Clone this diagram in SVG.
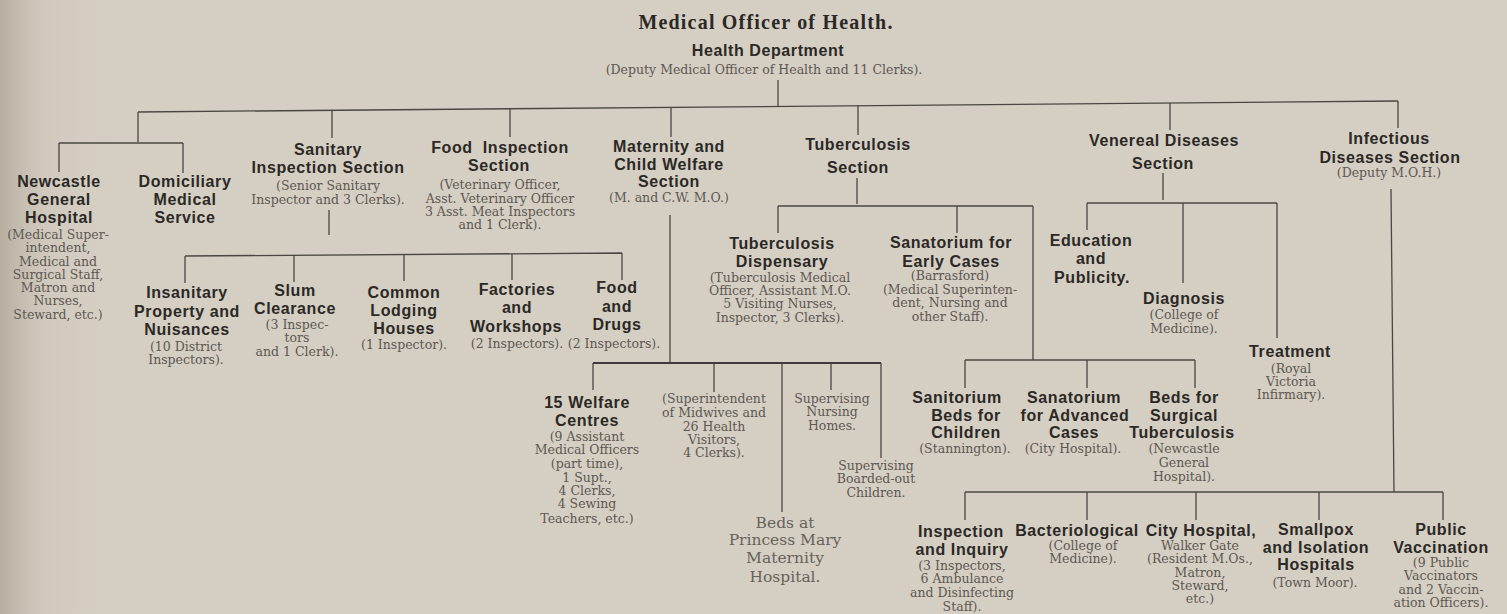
<svg xmlns="http://www.w3.org/2000/svg" width="1507" height="614" viewBox="0 0 1507 614">
<defs>
<linearGradient id="edge" x1="0" y1="0" x2="1" y2="0">
<stop offset="0" stop-color="#b3aa9c" stop-opacity="0.9"/>
<stop offset="0.03" stop-color="#c8c0b3" stop-opacity="0.4"/>
<stop offset="0.08" stop-color="#d6cfc3" stop-opacity="0"/>
</linearGradient>
</defs>
<style>
.h{font-family:"Liberation Sans",Arial,sans-serif;font-weight:bold;font-size:16px;letter-spacing:0.6px;fill:#2b2926;text-anchor:middle}
.s{font-family:"DejaVu Serif","Liberation Serif",serif;font-size:12.5px;fill:#5c5852;text-anchor:middle}
.t{font-family:"Liberation Serif","DejaVu Serif",serif;font-weight:bold;font-size:20px;letter-spacing:1.2px;fill:#2b2926;text-anchor:middle}
.b{font-family:"DejaVu Serif","Liberation Serif",serif;font-size:15.5px;fill:#66625b;text-anchor:middle}
.ln{fill:none;stroke:#4a4743;stroke-width:1.3}
.lk{fill:none;stroke:#3e3b38;stroke-width:2.2}
</style>
<rect width="1507" height="614" fill="#d5cec2"/>
<rect width="1507" height="614" fill="url(#edge)"/>

<g id="connectors">
<path class="ln" d="M778,80 V106"/>
<path class="ln" d="M138,112 L1398,101"/>
<path class="ln" d="M138,112 V142 M332,110 V138 M510,108 V137 M671,107 V137 M858,105 V135 M1170,103 V130 M1398,101 V128"/>
<path class="ln" d="M59,143 H183 M59,143 V172 M183,143 V173"/>
<path class="ln" d="M329,210 V235"/>
<path class="ln" d="M185,256 L622,253 M185,256 V283 M294,255 V282 M404,255 V281 M512,254 V280 M622,253 V280"/>
<path class="ln" d="M670,215 V362"/>
<path class="lk" d="M593,363 H881"/>
<path class="ln" d="M593,363 V390 M714,363 V392 M782,363 V512 M831,363 V390 M881,363 V458"/>
<path class="ln" d="M857,178 V204 M778,206 H1033 M778,206 V233 M957,206 V233 M1033,206 V360"/>
<path class="ln" d="M965,360 H1195 M965,360 V388 M1087,360 V388 M1195,360 V388"/>
<path class="ln" d="M1163,173 V200 M1087,203 H1277 M1087,203 V230 M1183,203 V283 M1277,203 V338"/>
<path class="ln" d="M1391,189 L1394,492 M965,492 H1443 M965,492 V520 M1087,492 V520 M1196,492 V520 M1319,492 V520 M1443,492 V520"/>
</g>

<g id="n-moh">
<text class="t" x="766" y="29">Medical Officer of Health.</text>
<text class="h" x="768" y="56">Health Department</text>
<text class="s" x="764" y="74">(Deputy Medical Officer of Health and 11 Clerks).</text>
</g>

<g id="n-newcastle">
<text class="h" x="59" y="187">Newcastle</text>
<text class="h" x="59" y="205">General</text>
<text class="h" x="59" y="223">Hospital</text>
<text class="s" x="58" y="239">(Medical Super-</text>
<text class="s" x="58" y="252">intendent,</text>
<text class="s" x="58" y="266">Medical and</text>
<text class="s" x="58" y="279">Surgical Staff,</text>
<text class="s" x="58" y="292">Matron and</text>
<text class="s" x="58" y="305">Nurses,</text>
<text class="s" x="58" y="319">Steward, etc.)</text>
</g>

<g id="n-domiciliary">
<text class="h" x="185" y="187">Domiciliary</text>
<text class="h" x="185" y="205">Medical</text>
<text class="h" x="185" y="223">Service</text>
</g>

<g id="n-sanitary">
<text class="h" x="328" y="155">Sanitary</text>
<text class="h" x="328" y="173">Inspection Section</text>
<text class="s" x="328" y="190">(Senior Sanitary</text>
<text class="s" x="328" y="204">Inspector and 3 Clerks).</text>
</g>

<g id="n-food">
<text class="h" x="500" y="153" word-spacing="5">Food Inspection</text>
<text class="h" x="499" y="171">Section</text>
<text class="s" x="500" y="189">(Veterinary Officer,</text>
<text class="s" x="500" y="203">Asst. Veterinary Officer</text>
<text class="s" x="500" y="216">3 Asst. Meat Inspectors</text>
<text class="s" x="500" y="229">and 1 Clerk).</text>
</g>

<g id="n-maternity">
<text class="h" x="669" y="152">Maternity and</text>
<text class="h" x="669" y="170">Child Welfare</text>
<text class="h" x="669" y="187">Section</text>
<text class="s" x="669" y="202">(M. and C.W. M.O.)</text>
</g>

<g id="n-tb">
<text class="h" x="858" y="150">Tuberculosis</text>
<text class="h" x="858" y="173">Section</text>
</g>

<g id="n-vd">
<text class="h" x="1164" y="146">Venereal Diseases</text>
<text class="h" x="1163" y="169">Section</text>
</g>

<g id="n-infectious">
<text class="h" x="1389" y="144">Infectious</text>
<text class="h" x="1390" y="163">Diseases Section</text>
<text class="s" x="1389" y="177">(Deputy M.O.H.)</text>
</g>

<g id="n-insanitary">
<text class="h" x="187" y="298">Insanitary</text>
<text class="h" x="187" y="317">Property and</text>
<text class="h" x="187" y="335">Nuisances</text>
<text class="s" x="186" y="351">(10 District</text>
<text class="s" x="186" y="364">Inspectors).</text>
</g>

<g id="n-slum">
<text class="h" x="295" y="296">Slum</text>
<text class="h" x="295" y="314">Clearance</text>
<text class="s" x="297" y="329">(3 Inspec-</text>
<text class="s" x="297" y="342">tors</text>
<text class="s" x="297" y="356">and 1 Clerk).</text>
</g>

<g id="n-lodging">
<text class="h" x="404" y="298">Common</text>
<text class="h" x="404" y="316">Lodging</text>
<text class="h" x="404" y="334">Houses</text>
<text class="s" x="404" y="349">(1 Inspector).</text>
</g>

<g id="n-factories">
<text class="h" x="517" y="295">Factories</text>
<text class="h" x="517" y="313">and</text>
<text class="h" x="516" y="332">Workshops</text>
<text class="s" x="517" y="348">(2 Inspectors).</text>
</g>

<g id="n-fooddrugs">
<text class="h" x="617" y="293">Food</text>
<text class="h" x="617" y="312">and</text>
<text class="h" x="617" y="330">Drugs</text>
<text class="s" x="614" y="348">(2 Inspectors).</text>
</g>

<g id="n-tbdisp">
<text class="h" x="782" y="249">Tuberculosis</text>
<text class="h" x="782" y="267">Dispensary</text>
<text class="s" x="780" y="282">(Tuberculosis Medical</text>
<text class="s" x="780" y="295">Officer, Assistant M.O.</text>
<text class="s" x="780" y="308">5 Visiting Nurses,</text>
<text class="s" x="780" y="322">Inspector, 3 Clerks).</text>
</g>

<g id="n-early">
<text class="h" x="951" y="248">Sanatorium for</text>
<text class="h" x="951" y="267">Early Cases</text>
<text class="s" x="950" y="280">(Barrasford)</text>
<text class="s" x="950" y="294">(Medical Superinten-</text>
<text class="s" x="950" y="307">dent, Nursing and</text>
<text class="s" x="950" y="321">other Staff).</text>
</g>

<g id="n-education">
<text class="h" x="1091" y="246">Education</text>
<text class="h" x="1091" y="264">and</text>
<text class="h" x="1092" y="283">Publicity.</text>
</g>

<g id="n-diagnosis">
<text class="h" x="1184" y="304">Diagnosis</text>
<text class="s" x="1184" y="319">(College of</text>
<text class="s" x="1184" y="333">Medicine).</text>
</g>

<g id="n-treatment">
<text class="h" x="1290" y="357">Treatment</text>
<text class="s" x="1291" y="373">(Royal</text>
<text class="s" x="1291" y="386">Victoria</text>
<text class="s" x="1291" y="399">Infirmary).</text>
</g>

<g id="n-welfare">
<text class="h" x="587" y="408">15 Welfare</text>
<text class="h" x="587" y="426">Centres</text>
<text class="s" x="587" y="441">(9 Assistant</text>
<text class="s" x="587" y="454">Medical Officers</text>
<text class="s" x="587" y="468">(part time),</text>
<text class="s" x="587" y="482">1 Supt.,</text>
<text class="s" x="587" y="495">4 Clerks,</text>
<text class="s" x="587" y="508">4 Sewing</text>
<text class="s" x="587" y="523">Teachers, etc.)</text>
</g>

<g id="n-midwives">
<text class="s" x="714" y="403">(Superintendent</text>
<text class="s" x="714" y="417">of Midwives and</text>
<text class="s" x="714" y="431">26 Health</text>
<text class="s" x="714" y="444">Visitors,</text>
<text class="s" x="714" y="457">4 Clerks).</text>
</g>

<g id="n-nursing">
<text class="s" x="832" y="403">Supervising</text>
<text class="s" x="832" y="416">Nursing</text>
<text class="s" x="832" y="430">Homes.</text>
</g>

<g id="n-boarded">
<text class="s" x="876" y="470">Supervising</text>
<text class="s" x="876" y="483">Boarded-out</text>
<text class="s" x="876" y="497">Children.</text>
</g>

<g id="n-princess">
<text class="b" x="785" y="528">Beds at</text>
<text class="b" x="785" y="545">Princess Mary</text>
<text class="b" x="785" y="563">Maternity</text>
<text class="b" x="785" y="582">Hospital.</text>
</g>

<g id="n-children">
<text class="h" x="957" y="403">Sanitorium</text>
<text class="h" x="966" y="421">Beds for</text>
<text class="h" x="966" y="438">Children</text>
<text class="s" x="965" y="453">(Stannington).</text>
</g>

<g id="n-advanced">
<text class="h" x="1074" y="403">Sanatorium</text>
<text class="h" x="1075" y="421">for Advanced</text>
<text class="h" x="1074" y="438">Cases</text>
<text class="s" x="1073" y="453">(City Hospital).</text>
</g>

<g id="n-surgical">
<text class="h" x="1184" y="403">Beds for</text>
<text class="h" x="1184" y="421">Surgical</text>
<text class="h" x="1182" y="438">Tuberculosis</text>
<text class="s" x="1184" y="453">(Newcastle</text>
<text class="s" x="1184" y="467">General</text>
<text class="s" x="1184" y="481">Hospital).</text>
</g>

<g id="n-inspection">
<text class="h" x="961" y="537">Inspection</text>
<text class="h" x="962" y="555">and Inquiry</text>
<text class="s" x="962" y="570">(3 Inspectors,</text>
<text class="s" x="962" y="583">6 Ambulance</text>
<text class="s" x="962" y="597">and Disinfecting</text>
<text class="s" x="962" y="611">Staff).</text>
</g>

<g id="n-bacteriological">
<text class="h" x="1077" y="536">Bacteriological</text>
<text class="s" x="1083" y="550">(College of</text>
<text class="s" x="1083" y="563">Medicine).</text>
</g>

<g id="n-city">
<text class="h" x="1201" y="536">City Hospital,</text>
<text class="s" x="1200" y="550">Walker Gate</text>
<text class="s" x="1200" y="563">(Resident M.Os.,</text>
<text class="s" x="1200" y="577">Matron,</text>
<text class="s" x="1200" y="590">Steward,</text>
<text class="s" x="1200" y="603">etc.)</text>
</g>

<g id="n-smallpox">
<text class="h" x="1316" y="535">Smallpox</text>
<text class="h" x="1316" y="553">and Isolation</text>
<text class="h" x="1316" y="570">Hospitals</text>
<text class="s" x="1315" y="587">(Town Moor).</text>
</g>

<g id="n-vaccination">
<text class="h" x="1441" y="535">Public</text>
<text class="h" x="1441" y="553">Vaccination</text>
<text class="s" x="1441" y="567" fill="#777268">(9 Public</text>
<text class="s" x="1441" y="580" fill="#777268">Vaccinators</text>
<text class="s" x="1441" y="594" fill="#777268">and 2 Vaccin-</text>
<text class="s" x="1441" y="607" fill="#777268">ation Officers).</text>
</g>
</svg>
